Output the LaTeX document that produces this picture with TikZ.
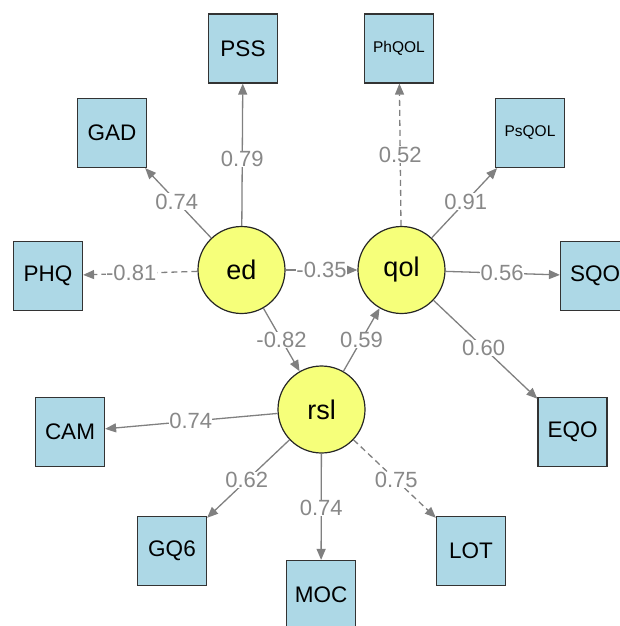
\documentclass[tikz,border=0pt]{standalone}
\usepackage{fontspec}
\setmainfont{Liberation Sans}
\usetikzlibrary{arrows.meta,calc}
\definecolor{boxfill}{RGB}{173,216,230}
\definecolor{latfill}{RGB}{246,255,122}
\definecolor{edgecol}{RGB}{128,128,128}
\definecolor{coefcol}{RGB}{136,136,136}
\definecolor{bordercol}{RGB}{51,51,51}
\begin{document}
\begin{tikzpicture}[x=1pt,y=-1pt,
  manifest/.style={draw=bordercol, line width=1.2pt, fill=boxfill,
    minimum size=69pt, inner sep=0pt, font=\fontsize{22.5}{24}\selectfont},
  smallman/.style={manifest, font=\fontsize{15.5}{17}\selectfont},
  latent/.style={circle, draw=black!85, line width=1.2pt, fill=latfill,
    minimum size=87pt, inner sep=0pt, font=\fontsize{27}{30}\selectfont},
  regr/.style={draw=edgecol, line width=1.3pt, -{Triangle[length=11pt,width=9pt]}},
  fixload/.style={regr, dash pattern=on 6pt off 4pt},
  coef/.style={fill=white, text=coefcol, inner sep=0.3pt,
    font=\fontsize{22}{24}\selectfont}
]
\useasboundingbox (0,0) rectangle (619,626);

% latent variables
\node[latent] (ed)  at (241.5,270)   {ed};
\node[latent] (qol) at (401.5,270)   {qol};
\node[latent] (rsl) at (321.5,409.5) {rsl};

% indicators
\node[manifest] (PSS)   at (243,48.5) {PSS};
\node[manifest] (GAD)   at (112,133)  {GAD};
\node[manifest] (PHQ)   at (48,276)   {PHQ};
\node[smallman] (PhQOL) at (399,48.5) {PhQOL};
\node[smallman] (PsQOL) at (530,133)  {PsQOL};
\node[manifest] (SQO)   at (595,276)  {SQO};
\node[manifest] (EQO)   at (572.5,432) {EQO};
\node[manifest] (CAM)   at (70,432)   {CAM};
\node[manifest] (GQ6)   at (172,551)  {GQ6};
\node[manifest] (MOC)   at (321,595)  {MOC};
\node[manifest] (LOT)   at (471,551)  {LOT};

% paths
\draw[regr]    (ed) -- (PSS);
\draw[regr]    (ed) -- (GAD);
\draw[fixload] (ed) -- (PHQ);
\draw[regr]    (ed) -- (qol);
\draw[regr]    (ed) -- (rsl);
\draw[fixload] (qol) -- (PhQOL);
\draw[regr]    (qol) -- (PsQOL);
\draw[regr]    (qol) -- (SQO);
\draw[regr]    (qol) -- (EQO);
\draw[regr]    (rsl) -- (qol);
\draw[regr]    (rsl) -- (CAM);
\draw[regr]    (rsl) -- (GQ6);
\draw[regr]    (rsl) -- (MOC);
\draw[fixload] (rsl) -- (LOT);

% coefficients
\node[coef] (c1)  at ($(ed)!0.5!(PSS)$)    {0.79};
\node[coef] (c2)  at ($(ed)!0.5!(GAD)$)    {0.74};
\node[coef] (c3)  at ($(ed)!0.57!(PHQ)$)   {-0.81};
\node[coef] (c4)  at ($(ed)!0.5!(qol)$)    {-0.35};
\node[coef] (c5)  at ($(ed)!0.5!(rsl)$)    {-0.82};
\node[coef] (c6)  at ($(qol)!0.52!(PhQOL)$) {0.52};
\node[coef] (c7)  at ($(qol)!0.5!(PsQOL)$) {0.91};
\node[coef] (c8)  at ($(qol)!0.52!(SQO)$)  {0.56};
\node[coef] (c9)  at ($(qol)!0.48!(EQO)$)  {0.60};
\node[coef] (c10) at ($(rsl)!0.5!(qol)$)   {0.59};
\node[coef] (c11) at ($(rsl)!0.52!(CAM)$)  {0.74};
\node[coef] (c12) at ($(rsl)!0.5!(GQ6)$)   {0.62};
\node[coef] (c13) at ($(rsl)!0.53!(MOC)$)  {0.74};
\node[coef] (c14) at ($(rsl)!0.5!(LOT)$)   {0.75};
\end{tikzpicture}
\end{document}
